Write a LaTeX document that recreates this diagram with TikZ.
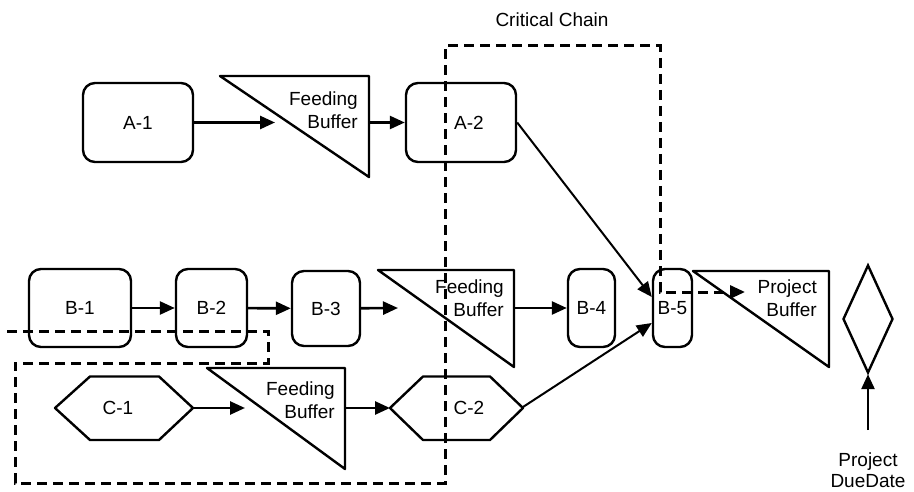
\documentclass[tikz,border=0pt]{standalone}
\usepackage{fontspec}
\setmainfont{Liberation Sans}
\usetikzlibrary{arrows.meta,shapes.geometric,calc}

\begin{document}
\begin{tikzpicture}[x=1pt,y=-1pt,
  font=\fontsize{19}{23}\selectfont,
  shape line/.style={draw, line width=2.4pt, line join=round},
  task/.style={shape line, rectangle, rounded corners=12pt, inner sep=0pt, minimum height=78pt},
  tip/.style={-{Triangle[length=15pt,width=13pt]}},
  flow/.style={line width=2.6pt, tip},
  slant flow/.style={line width=2pt, tip},
  chain/.style={line width=3pt, dash pattern=on 10pt off 6pt},
  buftext/.style={align=right, inner sep=0pt, anchor=east},
]
\useasboundingbox (0,0) rectangle (914,492);

% ---- row A ----
\node[task, minimum width=110pt, minimum height=79pt] (a1) at (138,122.5) {A-1};
\draw[shape line] (220,76) -- (369,76) -- (369,177) -- cycle;
\node[buftext] (fba) at (358,110) {Feeding\\Buffer};
\coordinate (fba-in) at (275,122.5);
\coordinate (fba-out) at (369,122.5);
\node[task, minimum width=110pt, minimum height=79pt,
      label={[xshift=8pt]center:A-2}] (a2) at (461,122.5) {};

% ---- row B ----
\node[task, minimum width=102pt] (b1) at (80,308) {B-1};
\node[task, minimum width=71pt] (b2) at (211.5,308) {B-2};
\node[task, minimum width=68pt, minimum height=75pt] (b3) at (326,308.5) {B-3};
\draw[shape line] (378,270) -- (514,270) -- (514,367) -- cycle;
\node[buftext] (fbb) at (504,298) {Feeding\\Buffer};
\coordinate (fbb-in) at (398,308);
\coordinate (fbb-out) at (514,308);
\node[task, minimum width=47pt] (b4) at (591.5,308) {B-4};
\node[task, minimum width=39pt] (b5) at (672.5,308) {B-5};

% ---- row C ----
\draw[shape line] (55,408) -- (90,376.5) -- (159,376.5) -- (193,408) -- (159,440) -- (90,440) -- cycle;
\node (c1) at (118,408) {C-1};
\coordinate (c1-e) at (193,408);
\draw[shape line] (207,368) -- (345,368) -- (345,469) -- cycle;
\node[buftext] (fbc) at (335,400) {Feeding\\Buffer};
\coordinate (fbc-in) at (245,408);
\coordinate (fbc-out) at (345,408);
\draw[shape line] (390,408) -- (423,376.5) -- (490,376.5) -- (523,408) -- (490,440) -- (423,440) -- cycle;
\node (c2) at (469,408) {C-2};
\coordinate (c2-w) at (390,408);
\coordinate (c2-e) at (523,407);

% ---- project buffer and due date ----
\draw[shape line] (693,271) -- (829,271) -- (829,367) -- cycle;
\node[buftext] (pb) at (817,298) {Project\\Buffer};
\node[draw, line width=2.4pt, diamond, minimum width=50pt, minimum height=108pt, inner sep=0pt] (due) at (868,319) {};
\node[align=center, inner sep=0pt, font=\fontsize{19}{21}\selectfont] (duetext) at (868,470) {Project\\DueDate};
\coordinate (due-src) at (868,430);

\node (cc) at (552,20) {Critical Chain};

% ---- connectors ----
\draw[flow] (a1) -- (fba-in);
\draw[flow] (fba-out) -- (a2);
\draw[flow] (b1) -- (b2);
\draw[flow] (b2) -- (b3);
\draw[flow] (b3) -- (fbb-in);
\draw[flow] (fbb-out) -- (b4);
\draw[flow] (c1-e) -- (fbc-in);
\draw[flow] (fbc-out) -- (c2-w);
\draw[slant flow] (a2.east) -- ($(b5.west)+(0,-11)$);
\draw[slant flow] (c2-e) -- ($(b5.west)+(0,15)$);
\draw[flow] (due-src) -- (due.south);

% ---- critical chain outline ----
\draw[chain, tip]
  (7,331) -- (268,331) -- (268,363) -- (15,363) -- (15,483) -- (445,483)
  -- (445,46) -- (660,46) -- (660,292) -- (745,292);
\end{tikzpicture}
\end{document}
